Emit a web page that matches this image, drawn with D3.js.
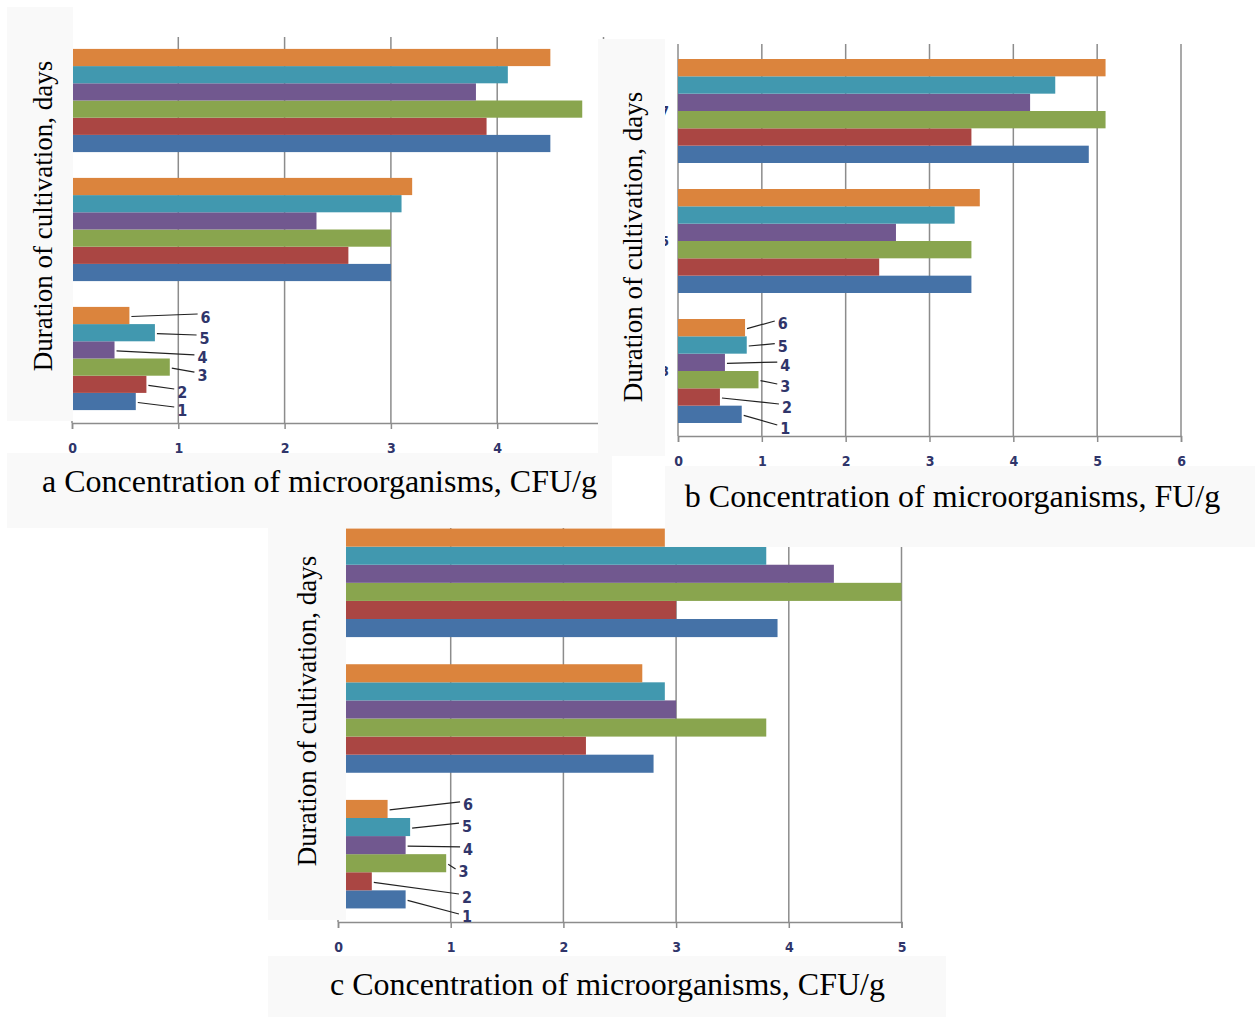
<!DOCTYPE html>
<html>
<head>
<meta charset="utf-8">
<script src="https://cdn.jsdelivr.net/npm/d3@7"></script>
<style>
  body { margin: 0; background: #fff; }
  svg { display: block; }
</style>
</head>
<body>
<svg id="fig" width="1255" height="1017"></svg>
<script>
// Cultivation duration, days (category axis, bottom to top)
const days = ["3", "5", "7"];
// Sample numbers (series), bottom to top inside each day group
const samples = ["1", "2", "3", "4", "5", "6"];

// Concentration of microorganisms: one row per day, one column per sample
const concA = [
  [0.6, 0.7, 0.92, 0.4, 0.78, 0.54],
  [3.0, 2.6, 3.0, 2.3, 3.1, 3.2],
  [4.5, 3.9, 4.8, 3.8, 4.1, 4.5]
];
const concB = [
  [0.76, 0.5, 0.96, 0.56, 0.82, 0.8],
  [3.5, 2.4, 3.5, 2.6, 3.3, 3.6],
  [4.9, 3.5, 5.1, 4.2, 4.5, 5.1]
];
const concC = [
  [0.6, 0.3, 0.96, 0.6, 0.64, 0.44],
  [2.8, 2.2, 3.8, 3.0, 2.9, 2.7],
  [3.9, 3.0, 5.0, 4.4, 3.8, 2.9]
];

// Value-axis maxima (tick labels run 0..max)
const axisMaxA = 5, axisMaxB = 6, axisMaxC = 5;

const yTitle = "Duration of cultivation, days";
const captionA = "a Concentration of microorganisms, CFU/g";
const captionB = "b Concentration of microorganisms, FU/g";
const captionC = "c Concentration of microorganisms, CFU/g";

// ---- styling / layout ----
const seriesColors = {
  "1": "#4572A7", "2": "#AA4643", "3": "#89A54E",
  "4": "#71588F", "5": "#4198AF", "6": "#DB843D"
};
const gridColor = "#8c8c8c";
const boxFill = "#f9f9f9";
const numFont = "'DejaVu Sans Condensed', 'DejaVu Sans', sans-serif";
const serifFont = "'Liberation Serif', 'Times New Roman', serif";
const numColor = "#30356a";

const svg = d3.select("#fig");

function drawPanel(cfg) {
  const g = svg.append("g");

  const x = d3.scaleLinear().domain([0, cfg.xMax]).range([cfg.x0, cfg.x1]);
  const y = d3.scaleBand().domain(days).range([cfg.yBottom, cfg.yTop])
    .paddingInner(0.2).paddingOuter(0.1);
  const ys = d3.scaleBand().domain(samples.slice().reverse()).range([0, y.bandwidth()]);

  // vertical gridlines
  g.append("g").selectAll("line").data(x.ticks(cfg.xMax)).join("line")
    .attr("x1", d => x(d)).attr("x2", d => x(d))
    .attr("y1", cfg.gridTop).attr("y2", cfg.yBottom)
    .attr("stroke", gridColor).attr("stroke-width", 1.5);

  // bars
  const rows = cfg.values.flatMap((row, i) =>
    row.map((v, j) => ({ day: days[i], sample: samples[j], v })));
  g.append("g").selectAll("rect").data(rows).join("rect")
    .attr("x", x(0))
    .attr("y", d => y(d.day) + ys(d.sample))
    .attr("width", d => x(d.v) - x(0))
    .attr("height", ys.bandwidth())
    .attr("fill", d => seriesColors[d.sample]);

  // value axis
  const ax = g.append("g").attr("transform", `translate(0,${cfg.yBottom})`)
    .call(d3.axisBottom(x).ticks(cfg.xMax).tickSize(6).tickPadding(cfg.tickPad));
  ax.select(".domain").attr("stroke", gridColor).attr("stroke-width", 1.5);
  ax.selectAll(".tick line").attr("stroke", gridColor).attr("stroke-width", 1.5);
  ax.selectAll(".tick text")
    .attr("font-family", numFont).attr("font-size", 14).attr("font-weight", "bold")
    .attr("fill", numColor);

  // day labels on the category axis
  g.append("g").selectAll("text").data(days).join("text")
    .attr("x", x(0) - 9)
    .attr("y", d => y(d) + y.bandwidth() / 2)
    .attr("text-anchor", "end").attr("dominant-baseline", "central")
    .attr("font-family", numFont).attr("font-size", 14).attr("font-weight", "bold")
    .attr("fill", numColor)
    .text(d => d);

  // sample number call-outs on the first day group
  const first = cfg.values[0];
  const callouts = samples.map((s, j) => {
    const cy = y(days[0]) + ys(s) + ys.bandwidth() / 2;
    return {
      s, x0: x(first[j]) + 2, y0: cy + 1,
      lx: x(cfg.labelAt[j]), ly: cy + cfg.labelDy[j]
    };
  });
  g.append("g").selectAll("line").data(callouts).join("line")
    .attr("x1", d => d.x0).attr("y1", d => d.y0)
    .attr("x2", d => d.lx - 3).attr("y2", d => d.ly - 3)
    .attr("stroke", "#222").attr("stroke-width", 1.2);
  g.append("g").selectAll("text").data(callouts).join("text")
    .attr("x", d => d.lx).attr("y", d => d.ly)
    .attr("dominant-baseline", "central")
    .attr("font-family", numFont).attr("font-size", 16).attr("font-weight", "bold")
    .attr("fill", numColor)
    .text(d => d.s);

  // side box with the axis title
  g.append("rect")
    .attr("x", cfg.strip[0]).attr("y", cfg.strip[1])
    .attr("width", cfg.strip[2]).attr("height", cfg.strip[3])
    .attr("fill", boxFill);
  g.append("text")
    .attr("transform", `translate(${cfg.titleX},${cfg.titleY}) rotate(-90)`)
    .attr("text-anchor", "middle")
    .attr("font-family", serifFont).attr("font-size", 27).attr("fill", "#000")
    .text(yTitle);

  // caption box
  g.append("rect")
    .attr("x", cfg.capBox[0]).attr("y", cfg.capBox[1])
    .attr("width", cfg.capBox[2]).attr("height", cfg.capBox[3])
    .attr("fill", boxFill);
  g.append("text")
    .attr("x", cfg.capX).attr("y", cfg.capY)
    .attr("text-anchor", "middle")
    .attr("font-family", serifFont).attr("font-size", 32).attr("fill", "#000")
    .text(cfg.caption);
}

// panel a
drawPanel({
  values: concA, xMax: axisMaxA, caption: captionA,
  x0: 72, x1: 603.5, yBottom: 423, yTop: 36, gridTop: 37, tickPad: 14,
  labelAt: [0.99, 0.99, 1.18, 1.18, 1.2, 1.21],
  labelDy: [8.5, 7.7, 8, 8, 5.3, 1.5],
  strip: [7, 7, 66, 414], titleX: 52, titleY: 216,
  capBox: [7, 453, 605, 75], capX: 319.5, capY: 492
});

// panel c
drawPanel({
  values: concC, xMax: axisMaxC, caption: captionC,
  x0: 338, x1: 901.5, yBottom: 922, yTop: 515, gridTop: 528, tickPad: 14,
  labelAt: [1.1, 1.1, 1.07, 1.11, 1.1, 1.11],
  labelDy: [17.6, 15.7, 8.7, 4.8, -1, -4],
  strip: [268, 528, 78, 392], titleX: 316, titleY: 711,
  capBox: [268, 956, 678, 61], capX: 607.5, capY: 995
});

// panel b
drawPanel({
  values: concB, xMax: axisMaxB, caption: captionB,
  x0: 678, x1: 1181, yBottom: 436, yTop: 46, gridTop: 44, tickPad: 14,
  labelAt: [1.22, 1.24, 1.22, 1.22, 1.19, 1.19],
  labelDy: [13.7, 10, 7.3, 2.7, 1.7, -3.7],
  strip: [598, 39, 67, 417], titleX: 642, titleY: 247,
  capBox: [665, 466, 590, 81], capX: 952.5, capY: 507
});
</script>
</body>
</html>
